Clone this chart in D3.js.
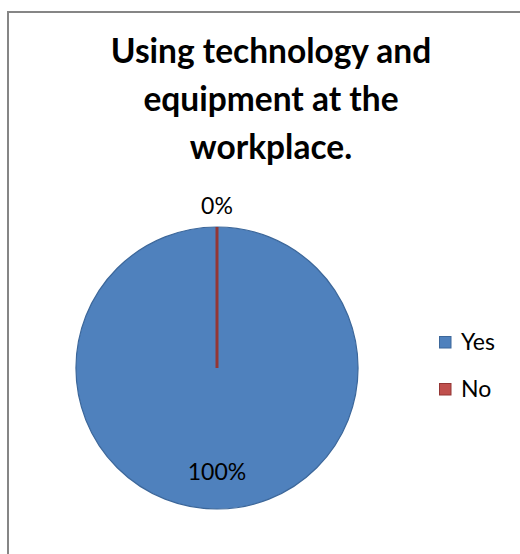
<!DOCTYPE html>
<html>
<head>
<meta charset="utf-8">
<script src="https://cdn.jsdelivr.net/npm/d3@7/dist/d3.min.js"></script>
<style>
  html, body { margin: 0; padding: 0; background: #fff; }
  svg { display: block; }
</style>
</head>
<body>
<svg id="chart" width="520" height="554"></svg>
<script>
const titleLines = ["Using technology and", "equipment at the", "workplace."];
const categories = ["Yes", "No"];
const values = [100, 0];
const percentLabels = ["100%", "0%"];
const fillColors = ["#4F81BD", "#C0504D"];
const strokeColors = ["#3C679A", "#943634"];

const svg = d3.select("#chart");
const W = 520, H = 554;
const font = "Lato, 'Liberation Sans', Arial, sans-serif";

// outer frame (cropped on right and bottom)
svg.append("rect").attr("x", 8).attr("y", 12).attr("width", W).attr("height", H)
  .attr("fill", "#fff").attr("stroke", "#868686").attr("stroke-width", 2);

// title
const title = svg.append("text").attr("text-anchor", "middle")
  .attr("font-family", font).attr("font-weight", "bold").attr("font-size", 33.5).attr("fill", "#000");
titleLines.forEach((t, i) => {
  title.append("tspan").attr("x", 271).attr("y", 63 + i * 48).text(t);
});

// pie
const cx = 217, cy = 368, r = 141;
const g = svg.append("g").attr("transform", `translate(${cx},${cy})`);
const pie = d3.pie().sort(null).value(d => d.v);
const data = categories.map((c, i) => ({ c, v: values[i], i }));
const arcs = pie(data);
const arc = d3.arc().innerRadius(0).outerRadius(r);

g.selectAll("path.slice").data(arcs.filter(a => a.data.v > 0)).enter().append("path")
  .attr("class", "slice")
  .attr("d", arc)
  .attr("fill", d => fillColors[d.data.i])
  .attr("stroke", d => strokeColors[d.data.i])
  .attr("stroke-width", 1.2);

// zero slices drawn as a radial line at their angle
arcs.filter(a => a.data.v === 0).forEach(a => {
  const ang = a.startAngle;
  g.append("line")
    .attr("x1", 0).attr("y1", 0)
    .attr("x2", r * Math.sin(ang)).attr("y2", -r * Math.cos(ang))
    .attr("stroke", strokeColors[a.data.i]).attr("stroke-width", 3);
});

// labels
const inArc = d3.arc().innerRadius(r * 0.74).outerRadius(r * 0.74);
const outArc = d3.arc().innerRadius(r * 1.15).outerRadius(r * 1.15);
arcs.forEach(a => {
  const p = (a.data.v === 0 ? outArc : inArc).centroid(a);
  g.append("text")
    .attr("x", p[0]).attr("y", p[1]).attr("dy", "0.35em")
    .attr("text-anchor", "middle")
    .attr("font-family", font).attr("font-size", 23).attr("fill", "#000")
    .text(percentLabels[a.data.i]);
});

// legend
const legend = svg.append("g").attr("transform", "translate(439,336)");
categories.forEach((c, i) => {
  const row = legend.append("g").attr("transform", `translate(0,${i * 47})`);
  row.append("rect").attr("x", 0.5).attr("y", 0.5).attr("width", 11.5).attr("height", 11.5)
    .attr("fill", fillColors[i]).attr("stroke", strokeColors[i]).attr("stroke-width", 1);
  row.append("text").attr("x", 22).attr("y", 6).attr("dy", "0.36em")
    .attr("font-family", font).attr("font-size", 23).attr("fill", "#000").text(c);
});
</script>
</body>
</html>
